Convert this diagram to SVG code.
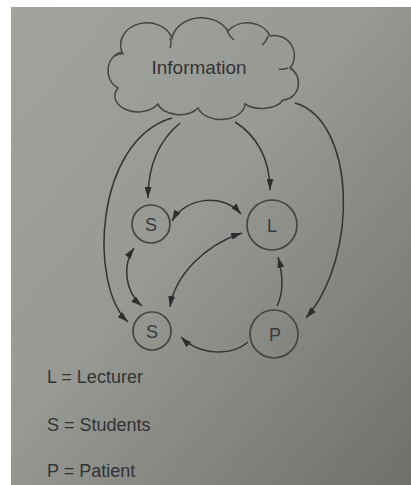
<svg xmlns="http://www.w3.org/2000/svg" width="411" height="485" viewBox="0 0 411 485">
  <defs>
    <linearGradient id="page" x1="0" y1="0" x2="1" y2="1">
      <stop offset="0" stop-color="#a1a39f"/>
      <stop offset="0.45" stop-color="#979995"/>
      <stop offset="1" stop-color="#6e706c"/>
    </linearGradient>
    <marker id="head" viewBox="0 0 11 7" refX="11" refY="3.5" markerWidth="11" markerHeight="7" markerUnits="userSpaceOnUse" orient="auto-start-reverse">
      <path d="M0,0 L11,3.5 L0,7 z" fill="#2e2e2e"/>
    </marker>
    <style>
      .line { fill: none; stroke: #333; stroke-width: 1.5; }
      .node circle { fill: none; stroke: #444; stroke-width: 1.7; }
      .node text { font-family: "Liberation Sans", Arial, sans-serif; font-size: 18px; fill: #3a3a3a; text-anchor: middle; }
      .cloud { fill: none; stroke: #444; stroke-width: 1.5; }
      .label { font-family: "Liberation Sans", Arial, sans-serif; fill: #333; }
    </style>
  </defs>

  <!-- page -->
  <rect width="411" height="485" fill="#ffffff"/>
  <rect x="11" y="7" width="400" height="478" fill="url(#page)"/>

  <!-- information cloud -->
  <g id="information">
    <path class="cloud" d="M118,88 A17,19 0 0 1 122,52 A26,22 0 0 1 172,38 A30,25 0 0 1 228,31 A24,20 0 0 1 270,36 A20,20 0 0 1 290,68 A16,17 0 0 1 283,100 A23,14 0 0 1 245,104 A24,16 0 0 1 198,108 A22,14 0 0 1 158,104 A19,13 0 0 1 118,88 Z"/>
    <path class="cloud" d="M115,56 Q119,53 124,54 M170,38 Q172,43 170,48 M227,31 Q230,37 234,40 M268,36 Q266,42 262,45 M288,68 Q283,70 279,69"/>
    <text class="label" x="199" y="74" font-size="19" text-anchor="middle">Information</text>
  </g>

  <!-- nodes -->
  <g id="students-top" class="node">
    <circle cx="151" cy="224" r="19"/>
    <text x="151" y="231">S</text>
  </g>
  <g id="lecturer" class="node">
    <circle cx="272" cy="225" r="25"/>
    <text x="272" y="232">L</text>
  </g>
  <g id="students-bottom" class="node">
    <circle cx="152" cy="331" r="19"/>
    <text x="152" y="338">S</text>
  </g>
  <g id="patient" class="node">
    <circle cx="274" cy="334" r="24"/>
    <text x="275" y="341">P</text>
  </g>

  <!-- connectors -->
  <g id="connectors">
    <path class="line" d="M180,123 C162,138 148,160 148,198" marker-end="url(#head)"/>
    <path class="line" d="M235,122 C256,135 270,158 270,190" marker-end="url(#head)"/>
    <path class="line" d="M172,118 C95,140 88,285 128,322" marker-end="url(#head)"/>
    <path class="line" d="M295,103 C355,120 360,255 306,318" marker-end="url(#head)"/>
    <path class="line" d="M172,221 C185,198 222,192 241,214" marker-start="url(#head)" marker-end="url(#head)"/>
    <path class="line" d="M242,233 C205,245 175,275 170,307" marker-start="url(#head)" marker-end="url(#head)"/>
    <path class="line" d="M134,248 C122,265 125,292 142,306" marker-start="url(#head)" marker-end="url(#head)"/>
    <path class="line" d="M277,306 C284,292 283,275 278,257" marker-end="url(#head)"/>
    <path class="line" d="M248,342 C232,356 200,356 181,337" marker-end="url(#head)"/>
  </g>

  <!-- key -->
  <g id="key" class="label" font-size="18">
    <text x="47" y="383">L = Lecturer</text>
    <text x="47" y="431">S = Students</text>
    <text x="47" y="477">P = Patient</text>
  </g>
</svg>
